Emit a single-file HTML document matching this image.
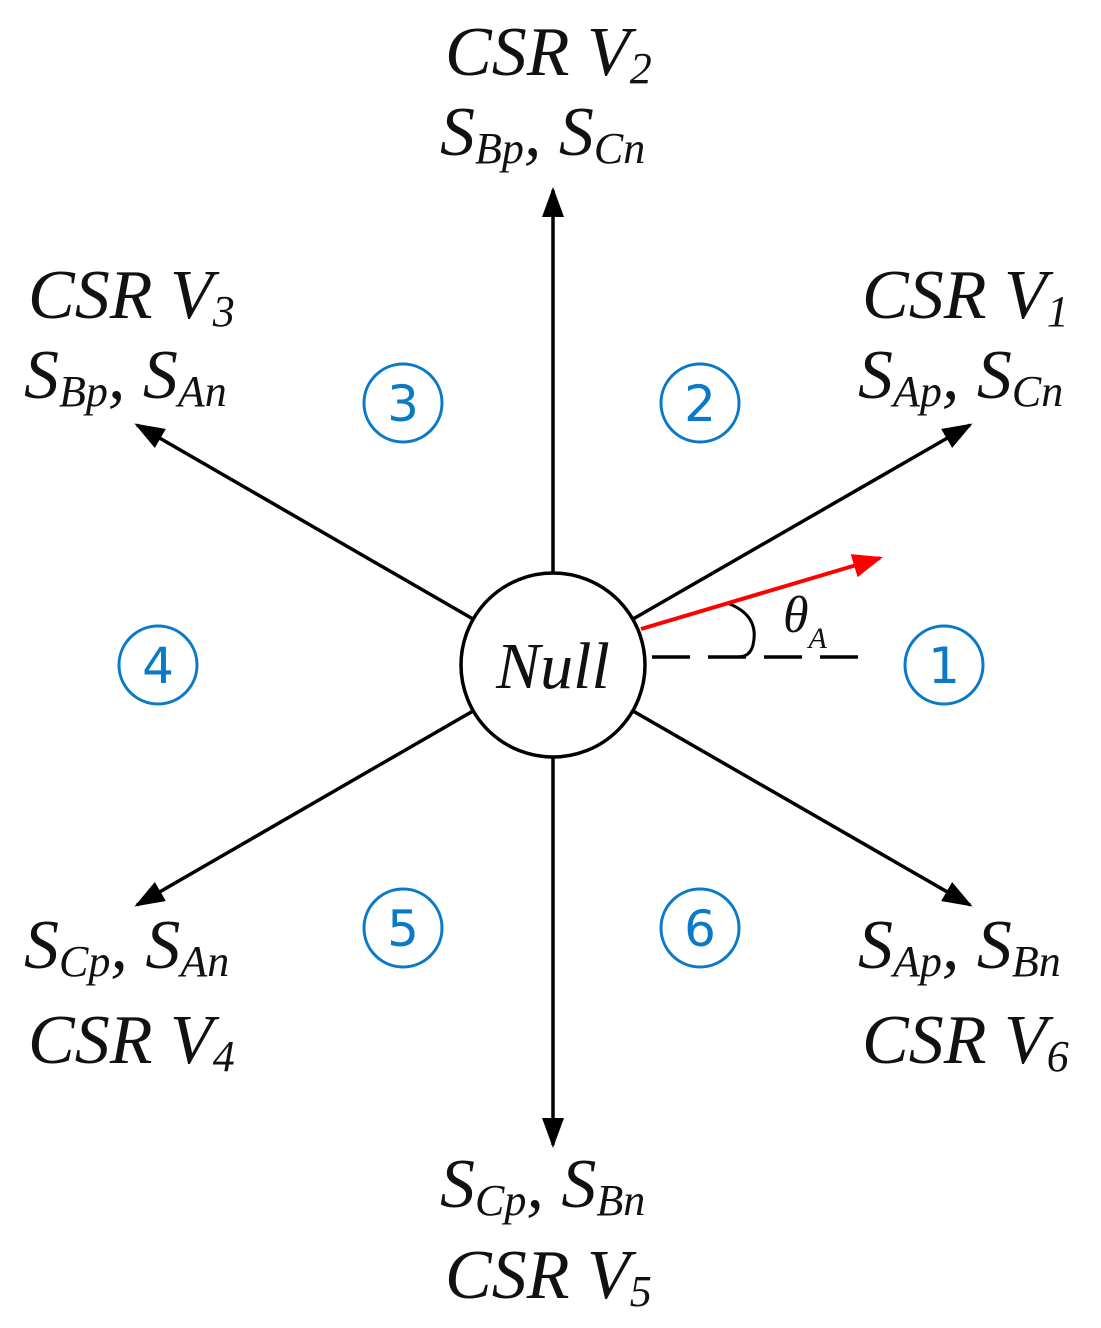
<!DOCTYPE html>
<html><head><meta charset="utf-8"><style>
html,body{margin:0;padding:0;background:#fff}
svg{display:block}
text{font-family:"Liberation Serif",serif;font-style:italic;fill:#111}
.n{font-family:"DejaVu Sans",sans-serif;font-style:normal;fill:#0a7ac8;font-size:50px}
</style></head><body>
<svg width="1101" height="1328" viewBox="0 0 1101 1328" xmlns="http://www.w3.org/2000/svg">
<defs>
<marker id="a" markerWidth="10" markerHeight="10" refX="9" refY="5" orient="auto" markerUnits="userSpaceOnUse" viewBox="0 0 10 10"><path d="M0,0 L10,5 L0,10z" fill="#000"/></marker>
<marker id="ar" viewBox="0 0 10 10" refX="9" refY="5" markerWidth="30" markerHeight="24" orient="auto" markerUnits="userSpaceOnUse" preserveAspectRatio="none"><path d="M0,0 L10,5 L0,10z" fill="#f00"/></marker>
<marker id="b" viewBox="0 0 10 10" refX="9" refY="5" markerWidth="30" markerHeight="22" orient="auto" markerUnits="userSpaceOnUse" preserveAspectRatio="none"><path d="M0,0 L10,5 L0,10z" fill="#000"/></marker>
</defs>
<g stroke="#000" stroke-width="3.5" fill="none">
<line x1="553" y1="573" x2="553" y2="190" marker-end="url(#b)"/>
<line x1="553" y1="757" x2="553" y2="1145" marker-end="url(#b)"/>
<line x1="633" y1="619" x2="970" y2="425" marker-end="url(#b)"/>
<line x1="633" y1="711" x2="970" y2="905" marker-end="url(#b)"/>
<line x1="473" y1="619" x2="137" y2="425" marker-end="url(#b)"/>
<line x1="473" y1="711" x2="137" y2="905" marker-end="url(#b)"/>
<circle cx="553" cy="665" r="92" fill="#fff"/>
<line x1="652" y1="657" x2="860" y2="657" stroke-dasharray="38,18"/>
<path d="M727,603 Q760,615 753,645 Q750,657 738,657" stroke-width="3"/>
</g>
<line x1="641" y1="629" x2="880" y2="558" stroke="#f00" stroke-width="4" marker-end="url(#ar)"/>
<text x="553" y="688" font-size="66" text-anchor="middle">Null</text>
<text x="783" y="632" font-size="52" fill="#111">θ<tspan font-size="30" dy="16">A</tspan></text>
<g fill="none" stroke="#0a7ac8" stroke-width="3">
<circle cx="700" cy="403" r="39"/><circle cx="403" cy="403" r="39"/>
<circle cx="158" cy="665" r="39"/><circle cx="944" cy="665" r="39"/>
<circle cx="403" cy="928" r="39"/><circle cx="700" cy="928" r="39"/>
</g>
<text class="n" x="700" y="421" text-anchor="middle">2</text>
<text class="n" x="403" y="421" text-anchor="middle">3</text>
<text class="n" x="158" y="683" text-anchor="middle">4</text>
<text class="n" x="944" y="683" text-anchor="middle">1</text>
<text class="n" x="403" y="946" text-anchor="middle">5</text>
<text class="n" x="700" y="946" text-anchor="middle">6</text>
<g font-size="70">
<text x="445" y="75">CSR V<tspan font-size="44" dy="8">2</tspan></text>
<text x="440" y="155">S<tspan font-size="44" dy="8">Bp</tspan><tspan dy="-8">, S</tspan><tspan font-size="44" dy="8">Cn</tspan></text>
<text x="28" y="318">CSR V<tspan font-size="44" dy="8">3</tspan></text>
<text x="24" y="398">S<tspan font-size="44" dy="8">Bp</tspan><tspan dy="-8">, S</tspan><tspan font-size="44" dy="8">An</tspan></text>
<text x="862" y="318">CSR V<tspan font-size="44" dy="8">1</tspan></text>
<text x="858" y="398">S<tspan font-size="44" dy="8">Ap</tspan><tspan dy="-8">, S</tspan><tspan font-size="44" dy="8">Cn</tspan></text>
<text x="24" y="968">S<tspan font-size="44" dy="8">Cp</tspan><tspan dy="-8">, S</tspan><tspan font-size="44" dy="8">An</tspan></text>
<text x="28" y="1063">CSR V<tspan font-size="44" dy="8">4</tspan></text>
<text x="858" y="968">S<tspan font-size="44" dy="8">Ap</tspan><tspan dy="-8">, S</tspan><tspan font-size="44" dy="8">Bn</tspan></text>
<text x="862" y="1063">CSR V<tspan font-size="44" dy="8">6</tspan></text>
<text x="440" y="1207">S<tspan font-size="44" dy="8">Cp</tspan><tspan dy="-8">, S</tspan><tspan font-size="44" dy="8">Bn</tspan></text>
<text x="445" y="1298">CSR V<tspan font-size="44" dy="8">5</tspan></text>
</g>
</svg>
</body></html>
